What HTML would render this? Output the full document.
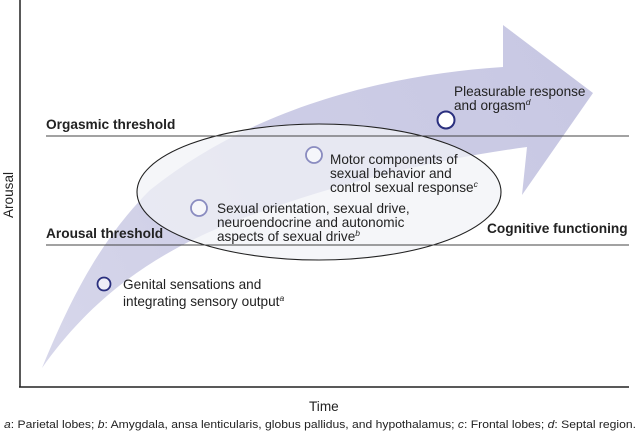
<!DOCTYPE html>
<html><head><meta charset="utf-8"><style>
html,body{margin:0;padding:0;background:#fff;}
svg{display:block;font-family:"Liberation Sans",Arial,sans-serif;}
</style></head><body>
<svg width="640" height="436" viewBox="0 0 640 436" xmlns="http://www.w3.org/2000/svg">
<defs>
<linearGradient id="g" x1="40" y1="370" x2="590" y2="90" gradientUnits="userSpaceOnUse">
<stop offset="0" stop-color="#c6c6e2" stop-opacity="0.7"/>
<stop offset="0.5" stop-color="#cdcde6"/>
<stop offset="1" stop-color="#c8c8e3"/>
</linearGradient>
</defs>
<path d="M42,368 C70,300 100,240 150,190 C250,110 380,75 503,67 L503,25 L593,93 L522,195 L527,147 C430,160 330,185 233,222 C150,255 90,300 42,368 Z" fill="url(#g)"/>
<ellipse cx="319" cy="192" rx="182" ry="68" fill="#f1f2f6" fill-opacity="0.72" stroke="#222" stroke-width="1.1"/>
<line x1="20" y1="0" x2="20" y2="387" stroke="#222" stroke-width="1.5"/>
<line x1="19" y1="387" x2="629" y2="387" stroke="#222" stroke-width="1.5"/>
<line x1="46" y1="136" x2="629" y2="136" stroke="#444" stroke-width="1"/>
<line x1="46" y1="245" x2="629" y2="245" stroke="#444" stroke-width="1"/>
<g font-weight="bold" font-size="13.7" fill="#222">
<text x="46" y="129">Orgasmic threshold</text>
<text x="46" y="238">Arousal threshold</text>
<text x="487" y="233">Cognitive functioning</text>
</g>
<circle cx="446" cy="120" r="8.5" fill="#fff" stroke="#2a2f7e" stroke-width="2"/>
<circle cx="314" cy="155" r="8" fill="#fff" fill-opacity="0.6" stroke="#8a8cc0" stroke-width="1.8"/>
<circle cx="199" cy="208" r="8" fill="#fff" fill-opacity="0.6" stroke="#8a8cc0" stroke-width="1.8"/>
<circle cx="104" cy="284" r="6.5" fill="#fff" fill-opacity="0.6" stroke="#2a2f7e" stroke-width="1.8"/>
<g font-size="13.6" fill="#222">
<text x="454" y="96">Pleasurable response</text>
<text x="454" y="110">and orgasm<tspan font-size="8.5" font-style="italic" dy="-5">d</tspan></text>
<text x="330" y="164">Motor components of</text>
<text x="330" y="178">sexual behavior and</text>
<text x="330" y="192">control sexual response<tspan font-size="8.5" font-style="italic" dy="-5">c</tspan></text>
<text x="217" y="213">Sexual orientation, sexual drive,</text>
<text x="217" y="227">neuroendocrine and autonomic</text>
<text x="217" y="241">aspects of sexual drive<tspan font-size="8.5" font-style="italic" dy="-5">b</tspan></text>
<text x="123" y="289">Genital sensations and</text>
<text x="123" y="306">integrating sensory output<tspan font-size="8.5" font-style="italic" dy="-5">a</tspan></text>
<text x="309" y="411">Time</text>
<text transform="translate(13,195) rotate(-90)" text-anchor="middle">Arousal</text>
</g>
<text x="4" y="428" font-size="10.6" fill="#222" textLength="632" lengthAdjust="spacingAndGlyphs"><tspan font-style="italic">a</tspan>: Parietal lobes; <tspan font-style="italic">b</tspan>: Amygdala, ansa lenticularis, globus pallidus, and hypothalamus; <tspan font-style="italic">c</tspan>: Frontal lobes; <tspan font-style="italic">d</tspan>: Septal region.</text>
</svg>
</body></html>
